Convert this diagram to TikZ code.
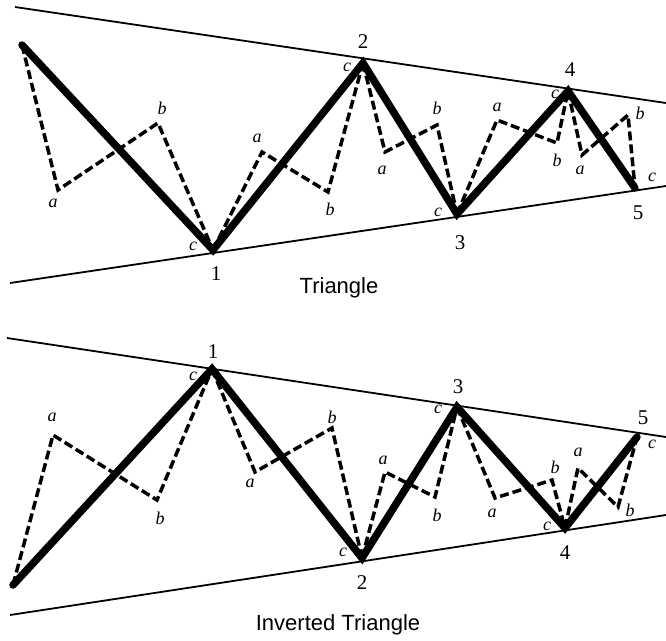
\documentclass[tikz,border=0pt]{standalone}
\usepackage{fontspec}
\setmainfont{Liberation Serif}
\setsansfont{Liberation Sans}
\begin{document}
\begin{tikzpicture}[x=1pt,y=-1pt,
  bound/.style={line width=1.8pt},
  wave/.style={line width=7.5pt, line join=miter, miter limit=10, line cap=round},
  sub/.style={line width=3.5pt, dash pattern=on 9pt off 4pt},
  num/.style={font=\fontsize{21}{21}\selectfont, inner sep=0pt},
  lett/.style={font=\fontsize{18}{18}\selectfont\itshape, inner sep=0pt},
  title/.style={font=\sffamily\fontsize{22}{22}\selectfont, inner sep=0pt}]
\useasboundingbox (0,0) rectangle (666,640);
% ---------- Triangle ----------
\coordinate (tu1) at (15,7);   \coordinate (tu2) at (666,103);
\coordinate (tl1) at (10,283); \coordinate (tl2) at (666,186);
\draw[bound] (tu1) -- (tu2);
\draw[bound] (tl1) -- (tl2);
\coordinate (P0) at (22,45);
\coordinate (P1) at (213,250);
\coordinate (P2) at (363,63);
\coordinate (P3) at (457,214);
\coordinate (P4) at (568,91);
\coordinate (P5) at (635,188);
\coordinate (A1) at (58,190);  \coordinate (B1) at (158,123);
\coordinate (A2) at (262,152); \coordinate (B2) at (328,192);
\coordinate (A3) at (385,152); \coordinate (B3) at (437,125);
\coordinate (A4) at (497,120); \coordinate (B4) at (557,143);
\coordinate (A5) at (582,155); \coordinate (B5) at (628,115);
\draw[sub] (P0) -- (A1) -- (B1) -- (P1);
\draw[sub] (P1) -- (A2) -- (B2) -- (P2);
\draw[sub] (P2) -- (A3) -- (B3) -- (P3);
\draw[sub] (P3) -- (A4) -- (B4) -- (P4);
\draw[sub] (P4) -- (A5) -- (B5) -- (P5);
\draw[wave] (P0) -- (P1) -- (P2) -- (P3) -- (P4) -- (P5);
\node[num] (n1) at (216,274) {1};
\node[num] (n2) at (363,42) {2};
\node[num] (n3) at (460,243) {3};
\node[num] (n4) at (570,70) {4};
\node[num] (n5) at (638,213) {5};
\node[lett] (c1) at (193,246) {c};
\node[lett] (c2) at (347,67) {c};
\node[lett] (c3) at (438,212) {c};
\node[lett] (c4) at (555,94) {c};
\node[lett] (c5) at (652,177) {c};
\node[lett] (la1) at (53,203) {a};
\node[lett] (la2) at (257,138) {a};
\node[lett] (la3) at (382,170) {a};
\node[lett] (la4) at (497,107) {a};
\node[lett] (la5) at (580,170) {a};
\node[lett] (lb1) at (162,108) {b};
\node[lett] (lb2) at (330,209) {b};
\node[lett] (lb3) at (437,108) {b};
\node[lett] (lb4) at (557,160) {b};
\node[lett] (lb5) at (640,113) {b};
\node[title] (t1) at (339,288) {Triangle};
% ---------- Inverted Triangle ----------
\coordinate (iu1) at (7,338);  \coordinate (iu2) at (666,437);
\coordinate (il1) at (10,615); \coordinate (il2) at (666,515);
\draw[bound] (iu1) -- (iu2);
\draw[bound] (il1) -- (il2);
\coordinate (Q0) at (13,585);
\coordinate (Q1) at (212,369);
\coordinate (Q2) at (362,558);
\coordinate (Q3) at (457,407);
\coordinate (Q4) at (565,528);
\coordinate (Q5) at (637,437);
\coordinate (D1) at (53,435);  \coordinate (E1) at (157,500);
\coordinate (D2) at (255,472); \coordinate (E2) at (332,428);
\coordinate (D3) at (385,472); \coordinate (E3) at (435,497);
\coordinate (D4) at (495,498); \coordinate (E4) at (552,480);
\coordinate (D5) at (578,468); \coordinate (E5) at (618,507);
\draw[sub] (Q0) -- (D1) -- (E1) -- (Q1);
\draw[sub] (Q1) -- (D2) -- (E2) -- (Q2);
\draw[sub] (Q2) -- (D3) -- (E3) -- (Q3);
\draw[sub] (Q3) -- (D4) -- (E4) -- (Q4);
\draw[sub] (Q4) -- (D5) -- (E5) -- (Q5);
\draw[wave] (Q0) -- (Q1) -- (Q2) -- (Q3) -- (Q4) -- (Q5);
\node[num] (m1) at (213,352) {1};
\node[num] (m2) at (362,583) {2};
\node[num] (m3) at (458,387) {3};
\node[num] (m4) at (565,553) {4};
\node[num] (m5) at (643,418) {5};
\node[lett] (d1) at (193,376) {c};
\node[lett] (d2) at (343,552) {c};
\node[lett] (d3) at (438,409) {c};
\node[lett] (d4) at (547,526) {c};
\node[lett] (d5) at (652,444) {c};
\node[lett] (ma1) at (52,417) {a};
\node[lett] (ma2) at (250,483) {a};
\node[lett] (ma3) at (383,460) {a};
\node[lett] (ma4) at (492,513) {a};
\node[lett] (ma5) at (578,452) {a};
\node[lett] (mb1) at (160,518) {b};
\node[lett] (mb2) at (332,417) {b};
\node[lett] (mb3) at (437,515) {b};
\node[lett] (mb4) at (555,467) {b};
\node[lett] (mb5) at (630,510) {b};
\node[title] (t2) at (338,625) {Inverted Triangle};
\end{tikzpicture}
\end{document}
